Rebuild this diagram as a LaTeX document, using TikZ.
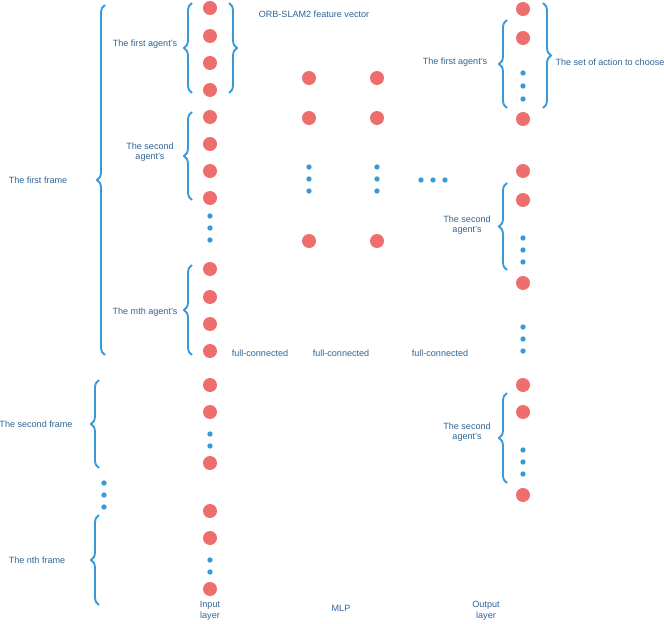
\documentclass[tikz,border=0pt]{standalone}
\usepackage{fontspec}
\setmainfont{Liberation Sans}
\usetikzlibrary{positioning}
\usetikzlibrary{decorations.pathreplacing}
\definecolor{neuron}{HTML}{EE6D6D}
\definecolor{dotblue}{HTML}{3A9AD9}
\definecolor{txtblue}{HTML}{2F6496}
\tikzset{
  unit/.style={circle, fill=neuron, minimum size=10.5pt, inner sep=0pt},
  gap/.style={circle, fill=dotblue, minimum size=4pt, inner sep=0pt},
  lbrace/.style={decorate, decoration={brace, amplitude=6pt}, draw=dotblue, line width=1.4pt},
  lbl/.style={text=txtblue, font=\fontsize{6.8}{8}\selectfont, align=center}
}
\begin{document}
\begin{tikzpicture}[x=0.75pt, y=-0.75pt]
   \useasboundingbox (0,0) rectangle (664,624);

   % input layer
   \foreach \y [count=\i] in {8,36,63,90,117,144,171,198,269,297,324,351,385,412,463,511,538,589}
     \node[unit] (in\i) at (210,\y) {};
   \foreach \y [count=\i] in {216,228,240,434,446,560,572}
     \node[gap] (ind\i) at (210,\y) {};

   % hidden layers
   \foreach \x/\n in {309/a,377/b} {
     \foreach \y [count=\i] in {78,118,241}
       \node[unit] (h\n\i) at (\x,\y) {};
     \foreach \y [count=\i] in {167,179,191}
       \node[gap] (h\n d\i) at (\x,\y) {};
   }
   \foreach \x [count=\i] in {421,433,445}
     \node[gap] (hd\i) at (\x,180) {};

   % output layer
   \foreach \y [count=\i] in {9,38,119,171,200,283,385,412,495}
     \node[unit] (out\i) at (523,\y) {};
   \foreach \y [count=\i] in {73,86,99,238,250,262,327,339,351,450,462,474}
     \node[gap] (outd\i) at (523,\y) {};

   % frames dots
   \foreach \y [count=\i] in {483,495,507}
     \node[gap] (fd\i) at (104,\y) {};

   % braces
   \foreach \x/\a/\b in {192/93/3,192/200/112,192/355/265,105/355/5,99/468/380,99/605/515,507/108/20,507/270/183,507/483/393}
     \draw[lbrace] (\x,\a) -- (\x,\b);
   \draw[lbrace] (229,3) -- (229,93);
   \draw[lbrace] (543,3) -- (543,108);

   % labels
   \node[lbl] (t1) at (145,44) {The first agent's};
   \node[lbl] (t2) at (150,152) {The second\\agent's};
   \node[lbl] (t3) at (145,312) {The mth agent's};
   \node[lbl] (f1) at (38,180) {The first frame};
   \node[lbl] (f2) at (36,424) {The second frame};
   \node[lbl] (f3) at (37,560) {The nth frame};
   \node[lbl] (orb) at (314,14) {ORB-SLAM2 feature vector};
   \node[lbl] (o1) at (455,62) {The first agent's};
   \node[lbl] (act) at (610,62) {The set of action to choose};
   \node[lbl] (o2) at (467,225) {The second\\agent's};
   \node[lbl] (o3) at (467,432) {The second\\agent's};
   \foreach \x [count=\i] in {260,341,440}
     \node[lbl] (fc\i) at (\x,353) {full-connected};
   \node[lbl] (il) at (210,611) {Input\\layer};
   \node[lbl] (mlp) at (341,608) {MLP};
   \node[lbl] (ol) at (486,611) {Output\\layer};
\end{tikzpicture}
\end{document}
